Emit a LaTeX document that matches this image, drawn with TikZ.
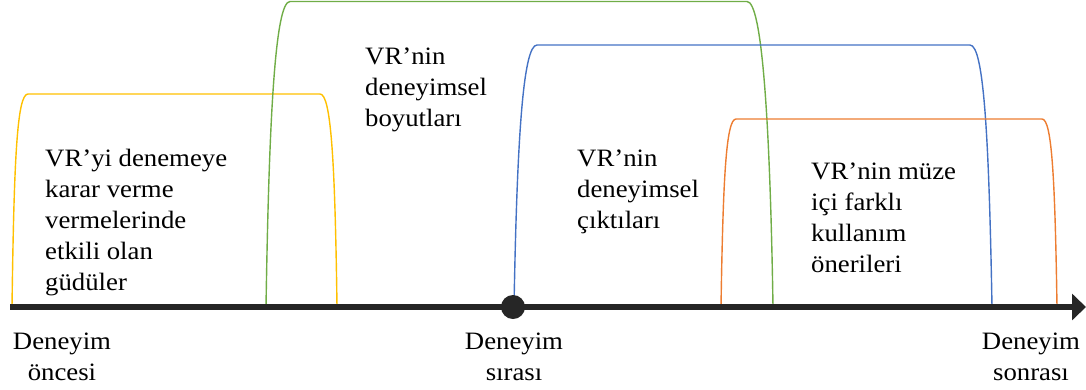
\documentclass[tikz,border=0pt]{standalone}
\usepackage{fontspec}
\setmainfont{Liberation Serif}[FakeStretch=1.07]
\usetikzlibrary{arrows.meta}
\definecolor{cyellow}{HTML}{FFC000}
\definecolor{cgreen}{HTML}{70AD47}
\definecolor{cblue}{HTML}{4472C4}
\definecolor{corange}{HTML}{ED7D31}
\definecolor{cdark}{HTML}{262626}
\tikzset{
  arch/.style={line width=1.4pt},
  label text/.style={font=\fontsize{25}{31}\selectfont, align=left, anchor=north west, inner sep=0pt, text=black},
  time label/.style={font=\fontsize{25}{31}\selectfont, align=center, anchor=north, inner sep=0pt, text=black},
  timeline/.style={line width=6pt, draw=cdark, -{Triangle[width=26pt,length=14pt]}},
}
\begin{document}
\begin{tikzpicture}[x=1pt,y=-1pt]
\useasboundingbox (0,0) rectangle (1086,389);
% arches
\draw[arch, cyellow] (12,307) .. controls (14,160) and (17,94) .. (28,94) -- (320,94) .. controls (331,94) and (335,160) .. (337,307);
\draw[arch, cgreen] (266,307) .. controls (269,120) and (275,1.5) .. (290,1.5) -- (747,1.5) .. controls (762,1.5) and (770,120) .. (773,307);
\draw[arch, cblue] (514,307) .. controls (517,140) and (523,45) .. (537,45) -- (970,45) .. controls (984,45) and (989,140) .. (992,307);
\draw[arch, corange] (721,307) .. controls (723,180) and (726,119) .. (736,119) -- (1042,119) .. controls (1052,119) and (1055,180) .. (1057,307);
% timeline
\coordinate (tstart) at (10,307);
\coordinate (tend) at (1086,307);
\draw[timeline] (tstart) -- (tend);
\node[circle, fill=cdark, minimum size=24pt, inner sep=0pt] (mid) at (513,307) {};
% texts
\node[label text] (motives) at (45,149) {VR’yi denemeye\\karar verme\\vermelerinde\\etkili olan\\güdüler};
\node[label text] (dims) at (365,48) {VR’nin\\deneyimsel\\boyutları};
\node[label text] (outs) at (577,150) {VR’nin\\deneyimsel\\çıktıları};
\node[label text] (sugg) at (811,163) {VR’nin müze\\içi farklı\\kullanım\\önerileri};
\node[time label] (before) at (62,333) {Deneyim\\öncesi};
\node[time label] (during) at (514,333) {Deneyim\\sırası};
\node[time label] (after) at (1031,333) {Deneyim\\sonrası};
\end{tikzpicture}
\end{document}
